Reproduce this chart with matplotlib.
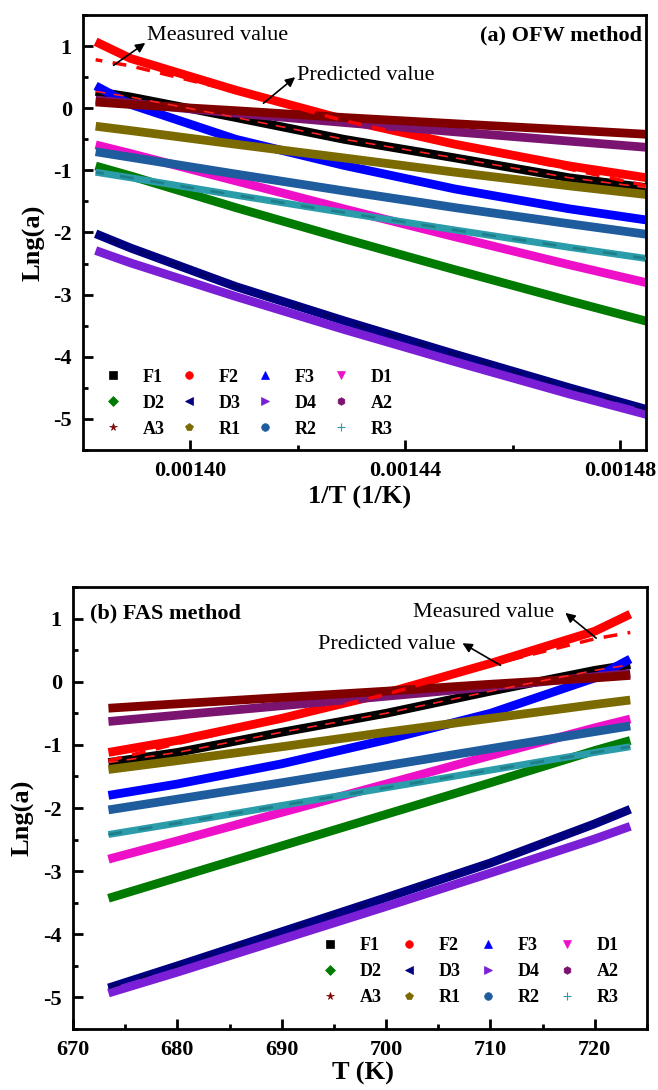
import numpy as np
import matplotlib
matplotlib.use('Agg')
import matplotlib.pyplot as plt
from matplotlib.lines import Line2D
from matplotlib.ticker import MultipleLocator, FixedLocator, FormatStrFormatter

# ---------------- data ----------------
T = [673.4, 680, 690, 700, 710, 720, 723.4]
F1 = [-1.28, -1.12, -0.80, -0.50, -0.15, 0.18, 0.27]
F2 = [-1.12, -0.93, -0.58, -0.18, 0.29, 0.80, 1.07]
F3 = [-1.80, -1.62, -1.30, -0.92, -0.50, 0.06, 0.36]
D1 = [-2.81, -2.52, -2.07, -1.62, -1.17, -0.73, -0.59]
D2 = [-3.43, -3.10, -2.60, -2.10, -1.60, -1.09, -0.93]
D3 = [-4.85, -4.50, -3.96, -3.42, -2.87, -2.25, -2.02]
D4 = [-4.93, -4.60, -4.08, -3.56, -3.03, -2.49, -2.29]
A2 = [-0.63, -0.53, -0.38, -0.23, -0.08, 0.08, 0.13]
A3 = [-0.42, -0.35, -0.25, -0.15, -0.04, 0.06, 0.10]
R1 = [-1.39, -1.25, -1.03, -0.80, -0.58, -0.36, -0.29]
R2 = [-2.03, -1.86, -1.60, -1.33, -1.06, -0.79, -0.70]
R3 = [-2.42, -2.24, -1.96, -1.68, -1.40, -1.12, -1.03]
F2_pred = [-1.25, -0.98, -0.60, -0.20, 0.27, 0.68, 0.78]

names = ['F1', 'F2', 'F3', 'D1', 'D2', 'D3', 'D4', 'A2', 'A3', 'R1', 'R2', 'R3']
series = [F1, F2, F3, D1, D2, D3, D4, A2, A3, R1, R2, R3]
colors = ['#000000', '#FF0000', '#0000FF', '#EE10C8', '#007A00', '#000080',
          '#7B1FD6', '#7A1470', '#800000', '#7A6A00', '#1F5C9E', '#2B9CAA']
markers = ['s', 'o', '^', 'v', 'D', '<', '>', 'h', '*', 'p', 'o', '+']

plt.rcParams['font.family'] = ['Liberation Serif', 'DejaVu Serif']
plt.rcParams['font.weight'] = 'bold'
plt.rcParams['axes.labelweight'] = 'bold'
plt.rcParams['axes.unicode_minus'] = False

fig = plt.figure(figsize=(6.58, 10.9), dpi=100)
ax1 = fig.add_axes([0.1261, 0.58716, 0.8556, 0.39908])
ax2 = fig.add_axes([0.1109, 0.05596, 0.8723, 0.4055])

invT = 1.0 / np.array(T)


def draw(ax, x):
    for name, y, c in zip(names, series, colors):
        ax.plot(x, y, color=c, lw=6.3 if name != 'R3' else 5.0,
                solid_capstyle='butt', solid_joinstyle='round', zorder=2)
    ax.plot(x, F2_pred, color='#FF0000', lw=2.5, ls=(0, (4, 3)), zorder=3)
    ax.plot(x, F1, color='#FF2020', lw=1.2, ls=(0, (6, 5)), zorder=3)
    ax.plot(x, R3, color='#1E7F8A', lw=2.0, ls=(0, (5, 6)), zorder=3)
    ax.plot(x, D3, color='#000060', lw=1.8, ls=(0, (5, 8)), zorder=3)


def style(ax):
    for s in ax.spines.values():
        s.set_linewidth(2.0)
    ax.tick_params(which='both', direction='in', top=False, right=False,
                   width=2.0, labelsize=16)
    ax.tick_params(which='major', length=7, pad=8)
    ax.tick_params(which='minor', length=3.5)
    ax.set_ylim(-5.5, 1.5)
    ax.yaxis.set_major_locator(MultipleLocator(1))
    ax.yaxis.set_minor_locator(MultipleLocator(0.5))
    ax.set_ylabel('Lng(a)', fontsize=19, fontweight='bold')
    ax.yaxis.set_label_coords(-0.067, 0.477)


# ---------------- top panel ----------------
draw(ax1, invT)
style(ax1)
ax1.set_xlim(0.001380, 0.0014848)
ax1.xaxis.set_major_locator(FixedLocator([0.00140, 0.00144, 0.00148]))
ax1.xaxis.set_minor_locator(FixedLocator([0.00142, 0.00146]))
ax1.xaxis.set_major_formatter(FormatStrFormatter('%.5f'))
ax1.set_xlabel('1/T (1/K)', fontsize=19, fontweight='bold')
ax1.xaxis.set_label_coords(0.492, -0.083)

ax1.text(0.993, 0.954, '(a) OFW method', transform=ax1.transAxes,
         ha='right', va='center', fontsize=16, fontweight='bold')
ax1.text(0.1137, 0.954, 'Measured value', transform=ax1.transAxes,
         ha='left', va='center', fontsize=16, fontweight='normal')
ax1.text(0.380, 0.862, 'Predicted value', transform=ax1.transAxes,
         ha='left', va='center', fontsize=16, fontweight='normal')
ax1.annotate('', xy=(0.0013916, 1.05), xytext=(0.0013857, 0.69),
             arrowprops=dict(arrowstyle='-|>', color='k', lw=1.2,
                             mutation_scale=14, shrinkA=0, shrinkB=0))
ax1.annotate('', xy=(0.0014195, 0.50), xytext=(0.0014136, 0.08),
             arrowprops=dict(arrowstyle='-|>', color='k', lw=1.2,
                             mutation_scale=14, shrinkA=0, shrinkB=0))

# ---------------- bottom panel ----------------
draw(ax2, T)
style(ax2)
ax2.set_xlim(670, 725)
ax2.xaxis.set_major_locator(MultipleLocator(10))
ax2.xaxis.set_minor_locator(MultipleLocator(5))
ax2.set_xlabel('T (K)', fontsize=19, fontweight='bold')
ax2.xaxis.set_label_coords(0.505, -0.075)

ax2.text(0.0296, 0.941, '(b) FAS method', transform=ax2.transAxes,
         ha='left', va='center', fontsize=16, fontweight='bold')
ax2.text(0.592, 0.943, 'Measured value', transform=ax2.transAxes,
         ha='left', va='center', fontsize=16, fontweight='normal')
ax2.text(0.427, 0.869, 'Predicted value', transform=ax2.transAxes,
         ha='left', va='center', fontsize=16, fontweight='normal')
ax2.annotate('', xy=(717.18, 1.09), xytext=(720.14, 0.69),
             arrowprops=dict(arrowstyle='-|>', color='k', lw=1.2,
                             mutation_scale=14, shrinkA=0, shrinkB=0))
ax2.annotate('', xy=(707.32, 0.61), xytext=(710.96, 0.26),
             arrowprops=dict(arrowstyle='-|>', color='k', lw=1.2,
                             mutation_scale=14, shrinkA=0, shrinkB=0))

# ---------------- legends (row-wise order) ----------------
handles = [Line2D([], [], ls='none', marker=m, color=c, markersize=5.5 if m != '+' else 6,
                  markeredgewidth=0.8 if m == '+' else 0.5)
           for m, c in zip(markers, colors)]
ncol, nrow = 4, 3
order = [r * ncol + c for c in range(ncol) for r in range(nrow)]
h_ord = [handles[i] for i in order]
l_ord = [names[i] for i in order]

leg_kw = dict(ncol=ncol, frameon=False, loc='lower left', borderpad=0,
              borderaxespad=0, handlelength=1.0, handletextpad=1.15,
              labelspacing=0.5, prop={'size': 13, 'weight': 'bold'})
ax1.legend(h_ord, l_ord, bbox_to_anchor=(0.037, 0.028), columnspacing=0.85, **leg_kw)
ax2.legend(h_ord, l_ord, bbox_to_anchor=(0.432, 0.052), columnspacing=1.0, **leg_kw)

fig.savefig('out.png', dpi=100)
